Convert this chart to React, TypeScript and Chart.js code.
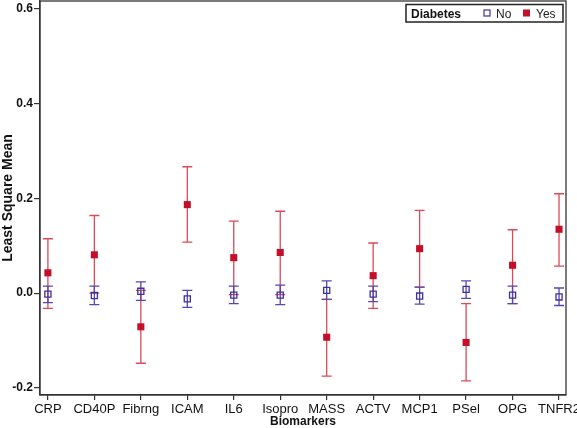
import React, { useEffect, useRef } from "react";
import { Chart, registerables } from "chart.js";

Chart.register(...registerables);

const categories = ["CRP", "CD40P", "Fibrng", "ICAM", "IL6", "Isopro", "MASS", "ACTV", "MCP1", "PSel", "OPG", "TNFR2"];
const noMean = [-0.002, -0.005, 0.004, -0.012, -0.004, -0.004, 0.006, -0.002, -0.006, 0.008, -0.004, -0.008];
const noLower = [-0.020, -0.024, -0.015, -0.030, -0.022, -0.024, -0.013, -0.018, -0.023, -0.011, -0.022, -0.026];
const noUpper = [0.015, 0.015, 0.024, 0.006, 0.015, 0.017, 0.026, 0.015, 0.013, 0.026, 0.015, 0.011];
const yesMean = [0.043, 0.081, -0.071, 0.187, 0.075, 0.086, -0.093, 0.037, 0.094, -0.104, 0.059, 0.135];
const yesLower = [-0.032, 0.000, -0.148, 0.108, -0.003, -0.003, -0.175, -0.032, 0.013, -0.185, -0.022, 0.057];
const yesUpper = [0.115, 0.164, 0.006, 0.267, 0.152, 0.173, -0.013, 0.106, 0.175, -0.022, 0.134, 0.210];
const yTicks = [-0.2, 0.0, 0.2, 0.4, 0.6];

const FONT = "'Liberation Sans', Arial, sans-serif";
const NO_COLOR = "#3d2f9e";
const NO_BAR = "#5546b0";
const YES_COLOR = "#c20f2a";
const YES_BAR = "#dc4a58";

export default function App() {
  const ref = useRef<HTMLCanvasElement | null>(null);
  useEffect(() => {
    if (!ref.current) return;
    const errorPlugin = {
      id: "errbars",
      beforeDatasetsDraw(chart: any) {
        const ctx = chart.ctx;
        const xs = chart.scales.x;
        const ys = chart.scales.y;
        const drawSet = (lo: number[], hi: number[], color: string) => {
          ctx.save();
          ctx.strokeStyle = color;
          ctx.lineWidth = 1.3;
          lo.forEach((l, i) => {
            const x = xs.getPixelForValue(i);
            const y1 = ys.getPixelForValue(l);
            const y2 = ys.getPixelForValue(hi[i]);
            ctx.beginPath();
            ctx.moveTo(x, y1);
            ctx.lineTo(x, y2);
            ctx.moveTo(x - 5, y1);
            ctx.lineTo(x + 5, y1);
            ctx.moveTo(x - 5, y2);
            ctx.lineTo(x + 5, y2);
            ctx.stroke();
          });
          ctx.restore();
        };
        drawSet(yesLower, yesUpper, YES_BAR);
        drawSet(noLower, noUpper, NO_BAR);
      },
      afterDraw(chart: any) {
        const ctx = chart.ctx;
        const a = chart.chartArea;
        ctx.save();
        ctx.strokeStyle = "#333";
        ctx.lineWidth = 1.3;
        ctx.strokeRect(a.left, a.top, a.right - a.left, a.bottom - a.top);
        // legend
        ctx.lineWidth = 1.5;
        ctx.strokeStyle = "#222";
        ctx.strokeRect(406, 4.5, 157, 17.5);
        ctx.fillStyle = "#111";
        ctx.textBaseline = "alphabetic";
        ctx.font = `bold 12px ${FONT}`;
        ctx.fillText("Diabetes", 411, 18);
        ctx.font = `12px ${FONT}`;
        ctx.fillStyle = "#222";
        ctx.fillText("No", 496, 18);
        ctx.fillText("Yes", 536, 18);
        ctx.strokeStyle = NO_COLOR;
        ctx.lineWidth = 1.2;
        ctx.strokeRect(484, 10, 6, 6);
        ctx.fillStyle = YES_COLOR;
        ctx.fillRect(523, 9.5, 7, 7);
        ctx.restore();
      },
    };

    const chart = new Chart(ref.current, {
      type: "scatter",
      data: {
        datasets: [
          {
            label: "Yes",
            data: yesMean.map((v, i) => ({ x: i, y: v })),
            pointStyle: "rect",
            radius: 5,
            backgroundColor: YES_COLOR,
            borderColor: YES_COLOR,
            borderWidth: 0,
          },
          {
            label: "No",
            data: noMean.map((v, i) => ({ x: i, y: v })),
            pointStyle: "rect",
            radius: 4.3,
            backgroundColor: "rgba(255,255,255,0)",
            borderColor: NO_COLOR,
            borderWidth: 1.3,
          },
        ],
      },
      plugins: [errorPlugin],
      options: {
        responsive: false,
        animation: false,
        devicePixelRatio: 1,
        layout: { autoPadding: false, padding: { left: 0, top: 1, right: 11, bottom: 0 } },
        plugins: { legend: { display: false }, tooltip: { enabled: false } },
        scales: {
          x: {
            type: "linear",
            min: -0.17,
            max: 11.15,
            afterBuildTicks: (s: any) => {
              s.ticks = categories.map((_, i) => ({ value: i }));
            },
            afterFit: (s: any) => {
              s.height = 33;
              s.paddingLeft = 0;
              s.paddingRight = 0;
            },
            ticks: {
              callback: (v: any) => categories[Math.round(Number(v))] ?? "",
              color: "#111",
              font: { family: FONT, size: 13 },
              padding: 2,
              maxRotation: 0,
              autoSkip: false,
            },
            grid: { drawOnChartArea: false, drawTicks: true, tickLength: 5, color: "#333", lineWidth: 1.2 },
            border: { display: true, color: "#333", width: 1.3 },
            title: {
              display: true,
              text: "Biomarkers",
              color: "#111",
              font: { family: FONT, size: 12, weight: "bold", lineHeight: 1 },
              padding: { top: 0, bottom: 0 },
            },
          },
          y: {
            type: "linear",
            min: -0.215,
            max: 0.617,
            afterBuildTicks: (s: any) => {
              s.ticks = yTicks.map((v) => ({ value: v }));
            },
            afterFit: (s: any) => {
              s.width = 40;
              s.paddingTop = 0;
              s.paddingBottom = 0;
            },
            ticks: {
              callback: (v: any) => Number(v).toFixed(1),
              color: "#111",
              font: { family: FONT, size: 12, weight: "bold" },
              padding: 1,
            },
            grid: { drawOnChartArea: false, drawTicks: true, tickLength: 6, color: "#333", lineWidth: 1.2 },
            border: { display: true, color: "#333", width: 1.3 },
            title: {
              display: true,
              text: "Least Square Mean",
              color: "#111",
              font: { family: FONT, size: 14, weight: "bold", lineHeight: 1.1 },
              padding: { top: 0, bottom: 0 },
            },
          },
        },
      },
    } as any);
    return () => chart.destroy();
  }, []);

  return (
    <div style={{ position: "absolute", left: 0, top: 0, width: 577, height: 428, background: "#fff" }}>
      <canvas ref={ref} width={577} height={428} style={{ display: "block" }} />
    </div>
  );
}
